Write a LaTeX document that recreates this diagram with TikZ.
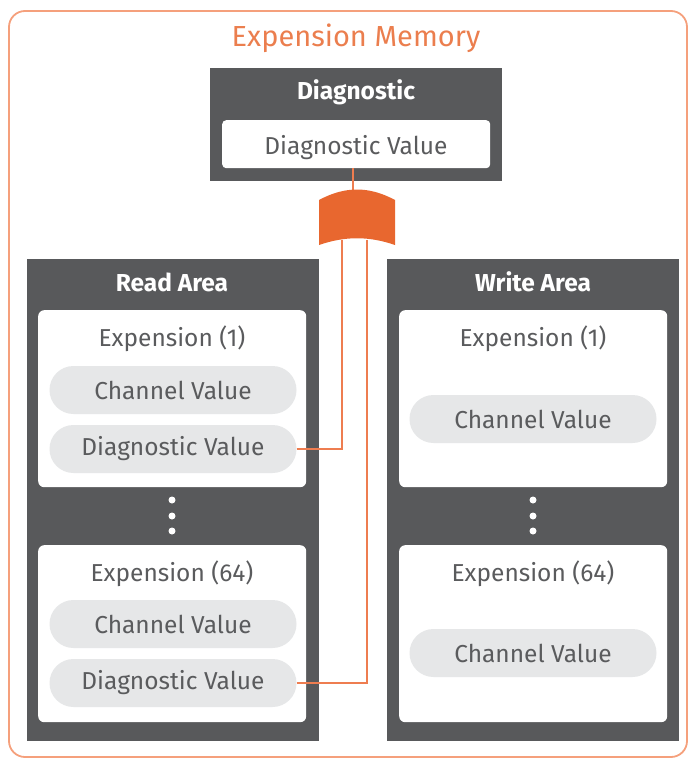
\documentclass[tikz,border=0pt]{standalone}
\usepackage{fontspec}
\setmainfont{Fira Sans}
\definecolor{areagray}{HTML}{58595B}
\definecolor{pillgray}{HTML}{E6E7E8}
\definecolor{textgray}{HTML}{5A5B5D}
\definecolor{memorange}{HTML}{E8672F}
\definecolor{linkorange}{HTML}{EE7D50}
\definecolor{frameorange}{HTML}{F5A07C}
\tikzset{
  area/.style={fill=areagray, anchor=north west, inner sep=0pt},
  expbox/.style={fill=white, rounded corners=6pt, anchor=north west, inner sep=0pt},
  pill/.style={fill=pillgray, rounded corners=24pt, minimum width=247pt,
    minimum height=48pt, inner sep=0pt, text=textgray, font=\fontsize{24.5}{28}\selectfont},
  heading/.style={text=white, font=\bfseries\fontsize{24.5}{28}\selectfont},
  exptitle/.style={text=textgray, font=\fontsize{24.5}{28}\selectfont},
  link/.style={draw=linkorange, line width=1.6pt},
  dotmark/.style={circle, fill=white, inner sep=0pt, minimum size=7pt}
}
\begin{document}
\begin{tikzpicture}[x=1pt,y=-1pt]
  \useasboundingbox (0,0) rectangle (690,760);
  % outer frame
  \draw[frameorange, line width=1.8pt, rounded corners=16pt] (9,11) rectangle (687,757);
  \node[text=memorange!85, font=\fontsize{29}{32}\selectfont] (memtitle) at (356,38) {Expension Memory};
  % diagnostic block
  \node[area, minimum width=292pt, minimum height=113pt] (diag) at (210,68) {};
  \node[heading] (diagtitle) at (356,92) {Diagnostic};
  \node[expbox, minimum width=268pt, minimum height=48pt, rounded corners=4pt] (dv) at (222,120) {};
  \node[exptitle] (dvtext) at (356,148) {Diagnostic Value};
  % read area
  \node[area, minimum width=292pt, minimum height=482pt] (read) at (27,259) {};
  \node[heading] (readtitle) at (172,282) {Read Area};
  \node[expbox, minimum width=268pt, minimum height=177pt] (rexp1) at (38,310) {};
  \node[exptitle] (rexp1title) at (172,339) {Expension (1)};
  \node[pill] (rch1) at (173,390) {Channel Value};
  \node[pill] (rdv1) at (173,449) {Diagnostic Value};
  \node[dotmark] (rdotA) at (172,500) {};
  \node[dotmark] (rdotB) at (172,516) {};
  \node[dotmark] (rdotC) at (172,531) {};
  \node[expbox, minimum width=268pt, minimum height=177pt] (rexp64) at (38,545) {};
  \node[exptitle] (rexp64title) at (172,574) {Expension (64)};
  \node[pill] (rch64) at (173,624) {Channel Value};
  \node[pill] (rdv64) at (173,683) {Diagnostic Value};
  % write area
  \node[area, minimum width=292pt, minimum height=482pt] (write) at (387,259) {};
  \node[heading] (writetitle) at (533,282) {Write Area};
  \node[expbox, minimum width=268pt, minimum height=177pt] (wexp1) at (399,310) {};
  \node[exptitle] (wexp1title) at (533,339) {Expension (1)};
  \node[pill] (wch1) at (533,419) {Channel Value};
  \node[dotmark] (wdotA) at (533,500) {};
  \node[dotmark] (wdotB) at (533,516) {};
  \node[dotmark] (wdotC) at (533,531) {};
  \node[expbox, minimum width=268pt, minimum height=177pt] (wexp64) at (399,545) {};
  \node[exptitle] (wexp64title) at (533,574) {Expension (64)};
  \node[pill] (wch64) at (533,653) {Channel Value};
  % links to the connector
  \coordinate (jointop) at (353,192);
  \coordinate (jointL) at (342,240);
  \coordinate (jointR) at (367,240);
  \draw[link] (dv.south -| jointop) -- (jointop);
  \draw[link] (rdv1.east) -| (jointL);
  \draw[link] (rdv64.east) -| (jointR);
  \fill[memorange]
    (319,200) .. controls (345,186) and (369,186) .. (395,200)
    -- (395,245) .. controls (369,236) and (345,236) .. (319,245)
    -- cycle;
\end{tikzpicture}
\end{document}
